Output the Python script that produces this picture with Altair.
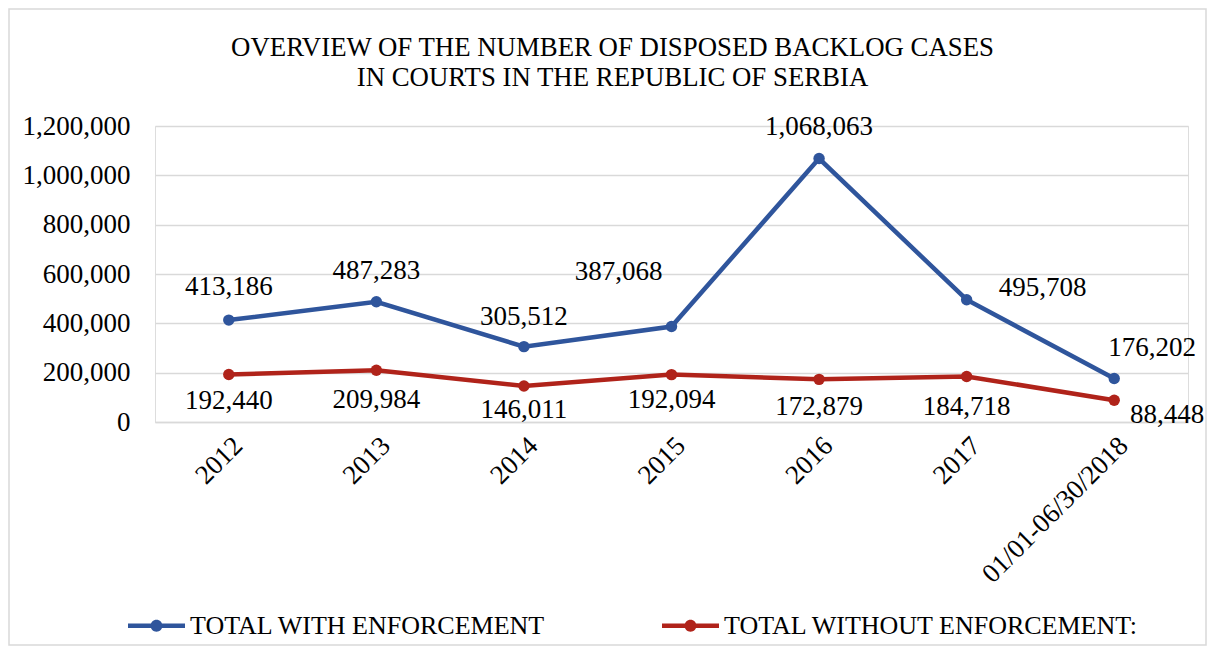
import altair as alt
import pandas as pd

# ---- data ----
periods = ["2012", "2013", "2014", "2015", "2016", "2017", "01/01-06/30/2018"]
with_enforcement = [413186, 487283, 305512, 387068, 1068063, 495708, 176202]
without_enforcement = [192440, 209984, 146011, 192094, 172879, 184718, 88448]
series_names = ["TOTAL WITH ENFORCEMENT", "TOTAL WITHOUT ENFORCEMENT:"]
y_ticks = [0, 200000, 400000, 600000, 800000, 1000000, 1200000]
title_lines = ["OVERVIEW OF THE NUMBER OF DISPOSED BACKLOG CASES",
               "IN COURTS IN THE REPUBLIC OF SERBIA"]

# ---- label placement (pixel offsets, styling only) ----
with_dx = [0, 0, 0, -53, 0, 76, 38]
with_dy = [-33, -31, -30, -55, -32, -12, -31]
without_dx = [0, 0, 0, 0, 0, 0, 53]
without_dy = [26, 30, 24, 25, 28, 31, 15]

colors = ["#2F559C", "#B0231A"]
FONT = "Liberation Serif"
FS = 27

rows = []
for i, p in enumerate(periods):
    rows.append({"period": p, "series": series_names[0], "value": with_enforcement[i],
                 "dx": with_dx[i], "dy": with_dy[i]})
    rows.append({"period": p, "series": series_names[1], "value": without_enforcement[i],
                 "dx": without_dx[i], "dy": without_dy[i]})
df = pd.DataFrame(rows)

legend_path = ("M-1,-0.08L1,-0.08L1,0.08L-1,0.08Z "
               "M-0.21,0A0.21,0.21,0,1,1,0.21,0A0.21,0.21,0,1,1,-0.21,0Z")

x_enc = alt.X("period:N", sort=periods,
              scale=alt.Scale(type="point", padding=0.5),
              axis=alt.Axis(title=None, labelAngle=-45, labelFont=FONT, labelFontSize=FS,
                            labelColor="black", ticks=False, grid=False, labelLimit=500,
                            domainColor="#D9D9D9", domainWidth=1.5, labelPadding=10))
y_enc = alt.Y("value:Q", scale=alt.Scale(domain=[0, 1200000], nice=False),
              axis=alt.Axis(title=None, values=y_ticks, format=",d", labelFont=FONT,
                            labelFontSize=FS, labelColor="black", ticks=False,
                            domain=False, gridColor="#D9D9D9", gridWidth=1.5,
                            labelPadding=25))
color_enc = alt.Color("series:N", sort=series_names,
                      scale=alt.Scale(domain=series_names, range=colors),
                      legend=alt.Legend(title=None, orient="none", direction="horizontal",
                                        legendX=-27, legendY=471, labelLimit=800,
                                        labelFont=FONT, labelFontSize=26, labelColor="black",
                                        symbolType=legend_path, symbolSize=3249,
                                        symbolStrokeWidth=0, labelOffset=5,
                                        columnPadding=116))

base = alt.Chart(df)
line = base.mark_line(strokeWidth=4.5).encode(x=x_enc, y=y_enc, color=color_enc,
                                              detail="series:N")
pts = base.mark_point(filled=True, size=130, opacity=1).encode(x=x_enc, y=y_enc,
                                                              color=color_enc)

layers = [line, pts]
offsets = sorted(set(zip(df["dx"], df["dy"])))
for dx, dy in offsets:
    layers.append(
        base.transform_filter(
            (alt.datum.dx == int(dx)) & (alt.datum.dy == int(dy))
        ).mark_text(font=FONT, fontSize=FS, color="black", dx=int(dx), dy=int(dy),
                    baseline="middle", align="center").encode(
            x=x_enc, y=y_enc, text=alt.Text("value:Q", format=",d"))
    )

frame = alt.Chart(pd.DataFrame({"a": [0]})).mark_rect(
    fill=None, stroke="#D9D9D9", strokeWidth=1.5, clip=False).encode(
    x=alt.value(-146), x2=alt.value(1051), y=alt.value(-117), y2=alt.value(519))

chart = alt.layer(frame, *layers).properties(
    width=1033, height=296,
    padding={"left": 147, "top": 118, "right": 19, "bottom": 224},
    autosize=alt.AutoSizeParams(type="none"),
    title=alt.TitleParams(text=title_lines, font=FONT, fontSize=26.8, fontWeight="normal",
                          color="black", anchor="middle", dx=-59, offset=-84,
                          lineHeight=30),
).configure_view(stroke=None).configure(background="white")

chart.save("out.html", embed_options={"renderer": "svg", "actions": False})
